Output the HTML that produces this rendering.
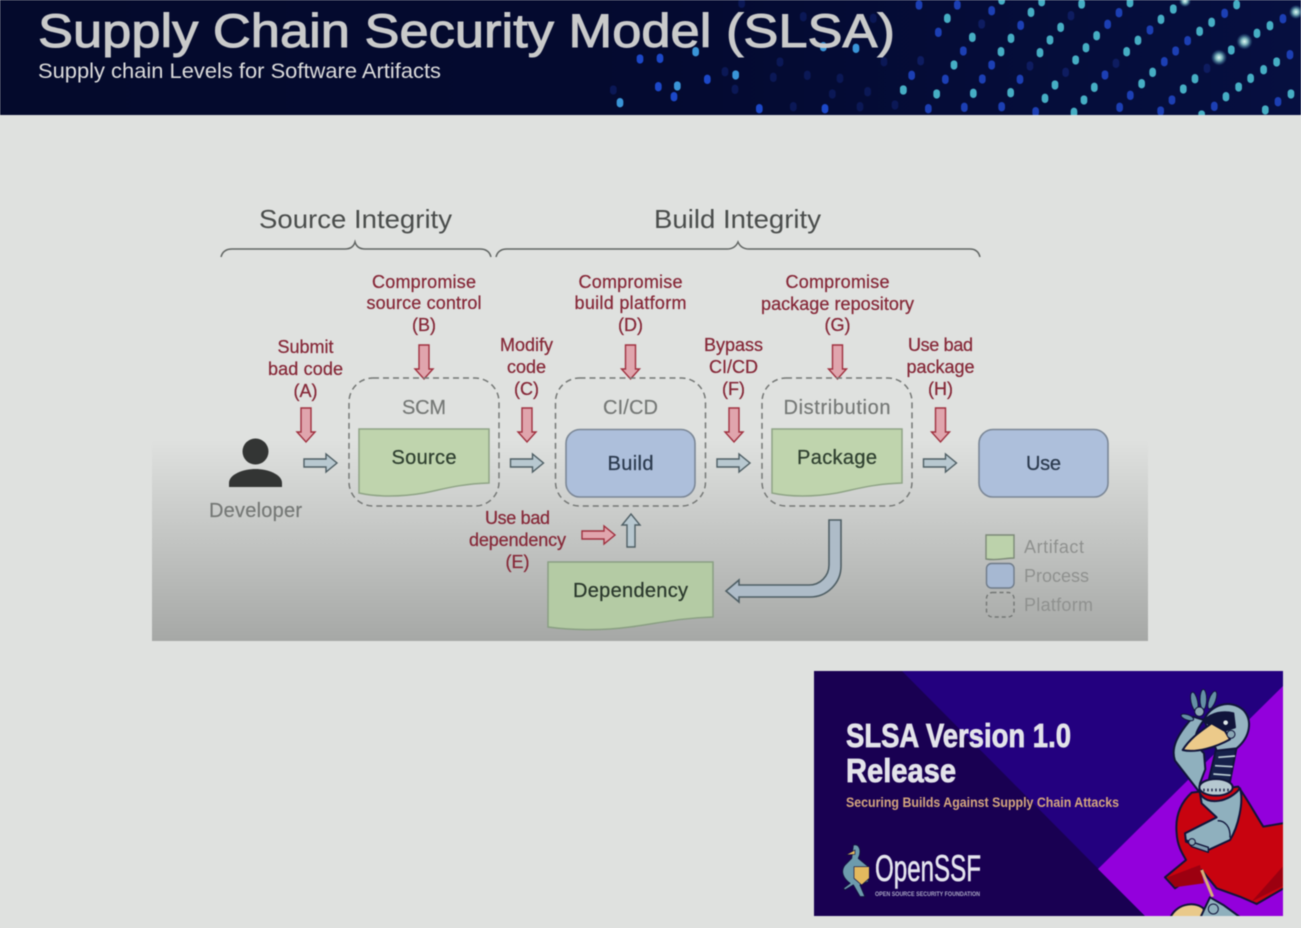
<!DOCTYPE html>
<html><head><meta charset="utf-8"><style>
html,body{margin:0;padding:0;background:#dfe1df;width:1301px;height:928px;overflow:hidden}
svg{display:block;filter:blur(.45px)}
text{font-family:"Liberation Sans",sans-serif}
.r{fill:#862838;stroke:#862838;stroke-width:.25;font-size:18px;text-anchor:middle}
.g{fill:#757876;stroke:#757876;stroke-width:.2;font-size:20px;text-anchor:middle}
.d{font-size:20px;text-anchor:middle;stroke-width:.25;stroke:currentColor}
.l{fill:#8f918f;font-size:18px}
</style></head><body>
<svg width="1301" height="928" viewBox="0 0 1301 928" xmlns="http://www.w3.org/2000/svg">
<defs>
<linearGradient id="panel" x1="0" y1="0" x2="0" y2="1"><stop offset="0" stop-color="#dfe1df"/><stop offset="1" stop-color="#a6a8a6"/></linearGradient>
<linearGradient id="hd" x1="0" y1="0" x2="1" y2="0"><stop offset="0" stop-color="#040a2c"/><stop offset=".5" stop-color="#040a30"/><stop offset="1" stop-color="#060f40"/></linearGradient>
<radialGradient id="glow"><stop offset="0" stop-color="#e8fbf8"/><stop offset=".4" stop-color="#9fe0dc" stop-opacity=".8"/><stop offset="1" stop-color="#4aa0c8" stop-opacity="0"/></radialGradient>
<clipPath id="hc"><rect width="1301" height="115"/></clipPath>
<clipPath id="cc"><rect x="814" y="671" width="469" height="245"/></clipPath>
<g id="dn"><path d="M-5 0H5V24H9L0 34L-9 24H-5Z" fill="#e0a5ad" stroke="#a0303f" stroke-width="1.4"/></g>
<g id="rt"><path d="M0 -4H22V-9L33 0L22 9V4H0Z" fill="#b8c8d0" stroke="#4f5f65" stroke-width="1.4"/></g>
<path id="doc" d="M0 0H130V54C100 55 85 60 65 64C42 68 18 68 0 64Z" fill="#bfd4ad" stroke="#8fa486" stroke-width="1.5"/>
</defs>
<rect width="1301" height="928" fill="#dfe1df"/>
<rect x="152" y="440" width="996" height="201" fill="url(#panel)"/>
<rect width="1301" height="115" fill="url(#hd)"/>
<g clip-path="url(#hc)">
<g fill="none" stroke-linecap="round">
<g transform="translate(900 0) scale(.3333)" stroke-width="20">
<path stroke="#0e1c60" d="M245 68v8M513 43v8M62 178v8M390 194v8M497 213v8M648 186v8M921 201v8"/>
<path stroke="#1c3fb4" d="M57 11v8M172 11v8M275 28v8M115 93v8M190 149v8M362 72v8M275 191v8M35 222v8M136 234v8M247 233v8M360 234v8M85 322v8M193 318v8M305 316v8M407 331v8M657 34v8M623 69v8M750 86v8M863 118v8M827 149v8M793 181v8M615 221v8M691 282v8M816 296v8M782 329v8M659 318v8M943 315v8M974 36v8M1149 52v8M1170 160v8M1134 301v8"/>
<path stroke="#46aec4" d="M142 51v8M217 108v8M162 191v8M110 278v8M10 266v8M220 276v8M332 274v8M333 111v8M303 151v8M393 33v8M482 78v8M450 116v8M420 154v8M527 176v8M465 251v8M435 291v8M590 103v8M558 139v8M583 258v8M552 296v8M522 333v8M545 8v8M690 4v8M820 23v8M783 54v8M714 117v8M680 151v8M758 213v8M725 247v8M885 232v8M850 263v8M935 63v8M899 90v8M994 146v8M1071 96v8M1110 73v8M1010 10v8M1130 182v8M1091 205v8M1052 231v8M1016 257v8M978 286v8M1173 278v8M1096 326v8M305 -4v8M425 1v8M905 341v8"/>
</g>
<g transform="translate(600 0) scale(.3333)" stroke-width="20">
<path stroke="#0b1856" d="M375 211v8M405 264v8M520 228v8M622 222v8M720 231v8M540 182v8M697 278v8M803 271v8M580 316v8M780 316v8M885 311v8M852 181v8M40 266v8M610 46v8M820 51v8M425 6v8"/>
<path stroke="#1c48c8" d="M120 173v8M180 171v8M222 286v8M322 234v8M478 322v8M675 322v8M175 256v8"/>
<path stroke="#3a95d8" d="M287 151v8M670 136v8M768 141v8M232 254v8M60 304v8M407 221v8"/>
<path stroke="#46aec4" d="M910 266v8"/>
</g>
</g>
<circle cx="1219" cy="57.500" r="8" fill="url(#glow)"/><circle cx="1244.500" cy="41.500" r="8" fill="url(#glow)"/><circle cx="1296" cy="12" r="7" fill="url(#glow)"/><circle cx="1185" cy="1" r="6" fill="url(#glow)"/>
</g>
<text x="38" y="47" font-size="47" fill="#c9caca" stroke="#c9caca" stroke-width="1" textLength="857" lengthAdjust="spacingAndGlyphs">Supply Chain Security Model (SLSA)</text>
<text x="38" y="78" font-size="21" fill="#dcdcdc" textLength="403" lengthAdjust="spacingAndGlyphs">Supply chain Levels for Software Artifacts</text>

<text x="355.500" y="228" font-size="26" fill="#4a4d4c" text-anchor="middle" textLength="193" lengthAdjust="spacingAndGlyphs">Source Integrity</text>
<text x="737.500" y="228" font-size="26" fill="#4a4d4c" text-anchor="middle" textLength="167" lengthAdjust="spacingAndGlyphs">Build Integrity</text>
<g fill="none" stroke="#626664" stroke-width="1.5">
<path d="M221 257Q223 249 232 249H345Q353 249 355 242Q357 249 365 249H480Q489 249 491 257"/>
<path d="M496 257Q498 249 507 249H727Q735 249 738 242Q741 249 749 249H970Q978 249 980 257"/>
</g>

<g>
<text class="r" x="305.500" y="353">Submit</text><text class="r" x="305.500" y="375" textLength="75">bad code</text><text class="r" x="305.500" y="397">(A)</text>
<text class="r" x="424" y="288" textLength="104">Compromise</text><text class="r" x="424" y="309" textLength="115">source control</text><text class="r" x="424" y="331">(B)</text>
<text class="r" x="526.500" y="351">Modify</text><text class="r" x="526.500" y="373">code</text><text class="r" x="526.500" y="395">(C)</text>
<text class="r" x="630.500" y="288" textLength="104">Compromise</text><text class="r" x="630.500" y="309" textLength="112">build platform</text><text class="r" x="630.500" y="331">(D)</text>
<text class="r" x="733.500" y="351">Bypass</text><text class="r" x="733.500" y="373">CI/CD</text><text class="r" x="733.500" y="395">(F)</text>
<text class="r" x="837.500" y="288" textLength="104">Compromise</text><text class="r" x="837.500" y="310" textLength="153">package repository</text><text class="r" x="837.500" y="331">(G)</text>
<text class="r" x="940.500" y="351" textLength="65">Use bad</text><text class="r" x="940.500" y="373" textLength="68">package</text><text class="r" x="940.500" y="395">(H)</text>
<text class="r" x="517.500" y="524" textLength="65">Use bad</text><text class="r" x="517.500" y="546" textLength="97">dependency</text><text class="r" x="517.500" y="568">(E)</text>
</g>

<use href="#dn" x="306" y="408"/><use href="#dn" x="424" y="345"/><use href="#dn" x="527" y="408"/><use href="#dn" x="630.500" y="345"/><use href="#dn" x="734" y="408"/><use href="#dn" x="837.500" y="345"/><use href="#dn" x="940.500" y="408"/>
<use href="#rt" x="304" y="463"/><use href="#rt" x="510.500" y="463"/><use href="#rt" x="717" y="463"/><use href="#rt" x="923.500" y="463"/>
<path d="M582 531H604V526L615 535L604 544V539H582Z" fill="#e0a5ad" stroke="#a0303f" stroke-width="1.4"/>
<path d="M627 547V525H622L631 514L640 525H635V547Z" fill="#b8c8d0" stroke="#4f5f65" stroke-width="1.4"/>
<path d="M829 520V565A20 20 0 0 1 809 585H739V580L726 591L739 602V597H810A31 31 0 0 0 841 566V520Z" fill="#aebcc8" stroke="#4f5f65" stroke-width="1.6"/>

<g fill="none" stroke="#757876" stroke-width="1.5" stroke-dasharray="6 4">
<rect x="349" y="378" width="150" height="128" rx="24"/><rect x="555.500" y="378" width="150" height="128" rx="24"/><rect x="762" y="378" width="150" height="128" rx="24"/>
</g>
<use href="#doc" x="359" y="429"/><use href="#doc" x="772" y="429"/>
<rect x="566" y="429.500" width="129" height="67.500" rx="14" fill="#adbfdb" stroke="#7b8796" stroke-width="1.6"/>
<rect x="979" y="429.500" width="129" height="67.500" rx="14" fill="#adbfdb" stroke="#7b8796" stroke-width="1.6"/>
<path d="M548 562H713V617C680 618 660 623 630 627C600 631 570 630 548 627Z" fill="#b4cba4" stroke="#8a9f83" stroke-width="1.5"/>

<text class="g" x="424" y="414" textLength="44">SCM</text><text class="g" x="630.500" y="414" textLength="55">CI/CD</text><text class="g" x="837" y="414" textLength="107">Distribution</text>
<text class="d" x="424" y="464" fill="#2f4030" color="#2f4030" textLength="65">Source</text><text class="d" x="837" y="464" fill="#2f4030" color="#2f4030" textLength="80">Package</text>
<text class="d" x="630.500" y="470" fill="#2b3a4e" color="#2b3a4e" textLength="46">Build</text><text class="d" x="1043.500" y="470" fill="#2b3a4e" color="#2b3a4e" textLength="35">Use</text>
<text class="d" x="630.500" y="597" fill="#2a382c" color="#2a382c" textLength="115">Dependency</text>

<circle cx="255.500" cy="451.500" r="13" fill="#333534"/>
<path d="M229 487V483C229 474 244 469 255.500 469C267 469 282 474 282 483V487Z" fill="#333534"/>
<text class="g" x="255.500" y="517" textLength="93">Developer</text>

<path d="M986 535H1014V558C1004 558 998 561 986 559Z" fill="#bcd2ab" stroke="#7d8a78" stroke-width="1.4"/>
<rect x="986.500" y="563.500" width="27.500" height="24.500" rx="5" fill="#a6b8d2" stroke="#6f7b89" stroke-width="1.4"/>
<rect x="986.500" y="592.500" width="27.500" height="24.500" rx="6" fill="none" stroke="#737674" stroke-width="1.4" stroke-dasharray="4 3"/>
<text class="l" x="1024" y="553" textLength="60">Artifact</text><text class="l" x="1024" y="582" textLength="65">Process</text><text class="l" x="1024" y="611" textLength="69">Platform</text>

<!-- card -->
<rect x="814" y="671" width="469" height="245" fill="#23007f"/>
<polygon points="814,671 902,671 1145,916 814,916" fill="#190052"/>
<polygon points="1283,686 1098,869 1145,916 1283,916" fill="#9300dc"/>
<text x="846" y="747" font-size="33" font-weight="bold" fill="#e3e3ea" stroke="#e3e3ea" stroke-width=".8" textLength="225" lengthAdjust="spacingAndGlyphs">SLSA Version 1.0</text>
<text x="846" y="782" font-size="33" font-weight="bold" fill="#e3e3ea" stroke="#e3e3ea" stroke-width=".8" textLength="110" lengthAdjust="spacingAndGlyphs">Release</text>
<text x="846" y="807" font-size="14" font-weight="bold" fill="#d5a77e" textLength="273" lengthAdjust="spacingAndGlyphs">Securing Builds Against Supply Chain Attacks</text>
<text x="875" y="881" font-size="37" fill="#e4e4ee" stroke="#e4e4ee" stroke-width=".6" textLength="106" lengthAdjust="spacingAndGlyphs">OpenSSF</text>
<text x="875" y="896" font-size="6" font-weight="bold" fill="#a9a6c4" textLength="105" lengthAdjust="spacingAndGlyphs">OPEN SOURCE SECURITY FOUNDATION</text>
<g transform="translate(810 665) scale(.3333)" stroke="#13103f" stroke-linejoin="round">
<path d="M130 540C150 535 155 560 145 580L175 605V650L150 660L165 695L150 695L130 660L105 675L100 670L120 655C100 640 90 620 105 600L125 580Z" fill="#6d9bad" stroke-width="3"/>
<path d="M132 605H178V640L155 660L132 640Z" fill="#e3b95e" stroke-width="2"/>
<path d="M108 570L135 555V568Z" fill="#e3b95e" stroke-width="2"/>
</g>
<!-- mascot -->
<g clip-path="url(#cc)">
<g transform="translate(1060 670) scale(.3333)" stroke="#10143a" stroke-width="6" stroke-linejoin="round">
<path d="M395 368C360 400 345 440 350 490C352 530 370 555 378 570L315 622L345 655L425 600L470 655L540 680L590 702L680 650V458L610 470C590 440 570 400 535 350Z" fill="#c8030f"/>
<path d="M322 622L420 585L432 640L345 652Z" fill="#9c0010" stroke="none"/>
<path d="M575 695L668 590V648Z" fill="#9c0010" stroke="none"/>
<path d="M425 600L458 680" stroke="#d6ae78" stroke-width="9"/>
<path d="M330 745C345 705 400 690 430 715L440 745Z" fill="#e9c98a"/>
<path d="M420 745L450 682L490 705L545 745Z" fill="#8fb0bd"/>
<circle cx="460" cy="717" r="15" fill="#8fb0bd" stroke-width="3"/>
<path d="M470 230L530 232L510 335H445Z" fill="#16204a"/>
<path d="M475 262L525 258M465 287L518 290M460 312L512 316" stroke="#b9cbd3" stroke-width="5"/>
<path d="M418 366L345 272C332 235 350 195 400 140L432 150C402 190 395 215 432 250L436 298L420 340Z" fill="#8fb0be"/>
<g fill="#6590a6" stroke-width="3">
<ellipse cx="403" cy="95" rx="10" ry="29" transform="rotate(-12 403 95)"/><ellipse cx="430" cy="88" rx="10" ry="30"/><ellipse cx="457" cy="90" rx="10" ry="28" transform="rotate(20 457 90)"/><ellipse cx="382" cy="142" rx="20" ry="8" transform="rotate(20 382 142)"/>
</g>
<circle cx="418" cy="125" r="14" fill="#8aa7b4" stroke-width="3"/>
<path d="M432 150C450 105 510 85 550 120C578 150 572 200 530 235L470 242Z" fill="#96b4c2"/>
<path d="M432 152C455 128 490 122 520 130L525 172L495 182L450 165Z" fill="#10143a"/>
<circle cx="497" cy="158" r="9" fill="#dfe8ea" stroke-width="4"/>
<path d="M368 240C390 205 420 185 455 160L495 183L510 208C470 230 410 250 368 240Z" fill="#ecca8a"/>
<circle cx="513" cy="193" r="12" fill="#8aa7b4" stroke-width="3"/>
<ellipse cx="468" cy="352" rx="50" ry="25" fill="#b6c8d0"/>
<path d="M430 360h76" stroke="#10143a" stroke-width="8" stroke-dasharray="4 8"/>
<path d="M420 370C440 410 510 395 540 355C552 395 535 470 510 510L445 540L378 515L375 490L470 442L425 400Z" fill="#8fb0be"/>
<path d="M378 510L445 532V547L395 530Z" fill="#7c9cad" stroke-width="4"/>
<circle cx="396" cy="516" r="10" fill="#8aa7b4" stroke-width="3"/>
<path d="M473 452C495 452 512 470 510 503" fill="none" stroke-width="4"/>
</g>
</g>
</svg>
</body></html>
